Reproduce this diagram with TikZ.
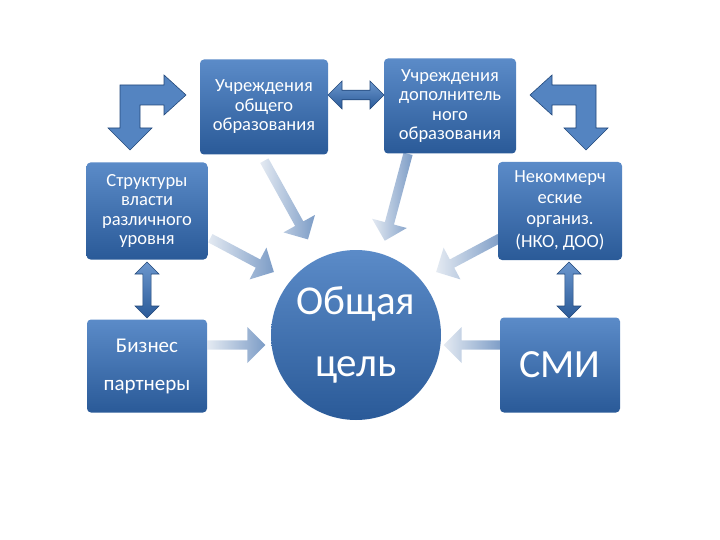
\documentclass[tikz,border=0pt]{standalone}
\usepackage{fontspec}
\setmainfont{Carlito}
\usetikzlibrary{shapes.arrows}
\definecolor{btop}{HTML}{5B8BC8}
\definecolor{bbot}{HTML}{2A5A98}
\definecolor{ltop}{HTML}{E4EAF2}
\definecolor{lbot}{HTML}{7C9CC6}
\tikzset{
 box/.style={rounded corners=4pt, top color=btop, bottom color=bbot, draw=none, text=white, align=center, font=\fontsize{18.5}{19.5}\selectfont},
 dbl/.style={double arrow, double arrow head extend=5pt, top color=btop!90, bottom color=bbot, draw=bbot!80!black, line width=0.6pt},
 lite/.style={single arrow, single arrow head extend=10pt, minimum width=36pt, shading angle=0, left color=ltop, right color=lbot, draw=none},
 elb/.style={fill=btop!85!bbot, draw=bbot!80!black, line width=0.6pt}
}
\begin{document}
\begin{tikzpicture}[x=1pt,y=-1pt]
\useasboundingbox (0,0) rectangle (720,540);
% light arrows
\node[lite, minimum height=90pt, rotate=-61] (a1) at (285,198) {};
\node[lite, minimum height=90pt, rotate=-105] (a2) at (397,195) {};
\node[lite, minimum height=72pt, rotate=-28] (a3) at (240,254) {};
\node[lite, minimum height=72pt, rotate=-152] (a4) at (470,254) {};
\node[lite, minimum height=58pt, rotate=0] (a5) at (234,345) {};
\node[lite, minimum height=58pt, rotate=180] (a6) at (475,345) {};
% boxes
\node[box, minimum width=128pt, minimum height=95pt] (b1) at (264,107) {Учреждения\\общего\\образования};
\node[box, minimum width=132pt, minimum height=95pt] (b2) at (450,106) {Учреждения\\дополнитель\\ного\\образования};
\node[box, minimum width=121pt, minimum height=97pt] (b3) at (147,211) {Структуры\\власти\\различного\\уровня};
\node[box, minimum width=124pt, minimum height=98pt, font=\fontsize{18.5}{21}\selectfont] (b4) at (560,211) {Некоммерч\\еские\\организ.\\[2pt](НКО, ДОО)};
\node[box, minimum width=120pt, minimum height=93pt, font=\fontsize{21}{38}\selectfont] (b5) at (147,366) {Бизнес\\партнеры};
\node[box, minimum width=120pt, minimum height=95pt, font=\fontsize{40}{42}\selectfont] (b6) at (560,365) {СМИ};
\node[circle, minimum size=170pt, top color=btop, bottom color=bbot, text=white, align=center, font=\fontsize{41}{62}\selectfont] (c) at (356,335) {Общая\\цель};
% double arrows
\node[dbl, minimum height=56pt, minimum width=28pt, double arrow head extend=7pt] (d1) at (356,95) {};
\node[dbl, minimum height=56pt, minimum width=24pt, double arrow head extend=7pt, rotate=90] (d2) at (147,290) {};
\node[dbl, minimum height=56pt, minimum width=24pt, double arrow head extend=7pt, rotate=90] (d3) at (569,290) {};
% elbow arrows
\draw[elb] (186,95) -- (164,75) -- (164,85) -- (120,85) -- (120,128) -- (108,128) -- (130,150) -- (152,128) -- (140,128) -- (140,105) -- (164,105) -- (164,115) -- cycle;
\draw[elb] (530,95) -- (552,75) -- (552,85) -- (596,85) -- (596,128) -- (608,128) -- (586,150) -- (564,128) -- (576,128) -- (576,105) -- (552,105) -- (552,115) -- cycle;
\end{tikzpicture}
\end{document}
